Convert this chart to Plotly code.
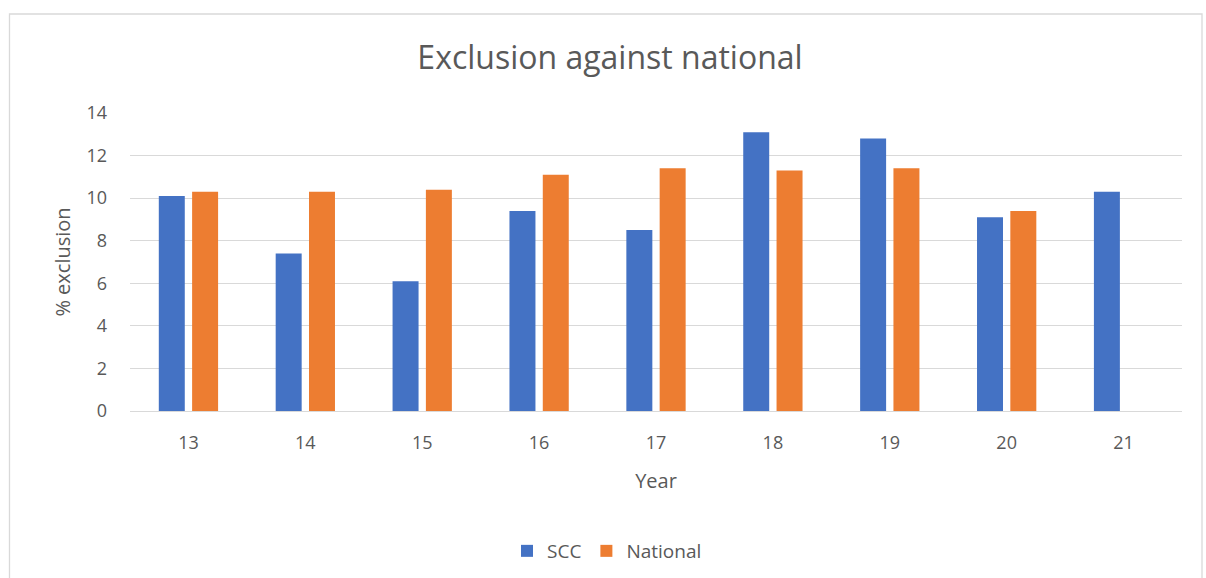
import plotly.graph_objects as go

years = ["13", "14", "15", "16", "17", "18", "19", "20", "21"]
scc = [10.1, 7.4, 6.1, 9.4, 8.5, 13.1, 12.8, 9.1, 10.3]
national = [10.3, 10.3, 10.4, 11.1, 11.4, 11.3, 11.4, 9.4, None]

W, H = 1206, 578
L, R, T, B = 130, 24, 113, 167
pw = W - L - R
ph = H - T - B

FONT = "Open Sans"
GREY = "#595959"

fig = go.Figure()
fig.add_trace(go.Bar(name="SCC", x=years, y=scc, marker=dict(color="#4472C4", line=dict(width=0))))
fig.add_trace(go.Bar(name="National", x=years, y=national, marker=dict(color="#ED7D31", line=dict(width=0))))

def px(x):
    return (x - L) / pw

def py(y):
    return (H - B - y) / ph

fig.update_layout(
    width=W, height=H,
    margin=dict(l=L, r=R, t=T, b=B, pad=0, autoexpand=False),
    paper_bgcolor="white", plot_bgcolor="white",
    barmode="group", bargap=0.43, bargroupgap=0.22,
    font=dict(family=FONT, color=GREY),
    title=dict(text="Exclusion against national", x=610 / W, xref="container", xanchor="center",
               y=1 - 58 / H, yref="container", yanchor="middle",
               font=dict(family=FONT, size=32, color=GREY)),
    xaxis=dict(showgrid=False, showline=True, linecolor="#d9d9d9", linewidth=1.3, automargin=False,
               ticks="", tickfont=dict(size=18, color=GREY), ticklabelstandoff=15,
               title=dict(text="Year", font=dict(size=20, color=GREY), standoff=21)),
    yaxis=dict(range=[0, 14], dtick=2, showgrid=True, gridcolor="#d9d9d9", gridwidth=1.3,
               zeroline=False, showline=False, ticks="", tickfont=dict(size=18, color=GREY),
               ticklabelstandoff=22, automargin=False,
               title=dict(text="% exclusion", font=dict(size=20, color=GREY), standoff=10)),
    legend=dict(orientation="h", x=px(607), xanchor="center", y=py(551), yanchor="middle",
                font=dict(size=19, color=GREY), itemwidth=30, traceorder="normal"),
    shapes=[dict(type="rect", xref="paper", yref="paper",
                 x0=px(9.5), x1=px(1202), y0=py(590), y1=py(14),
                 line=dict(color="#d9d9d9", width=1.3), fillcolor="rgba(0,0,0,0)", layer="below")],
)

fig.write_html("out.html")
